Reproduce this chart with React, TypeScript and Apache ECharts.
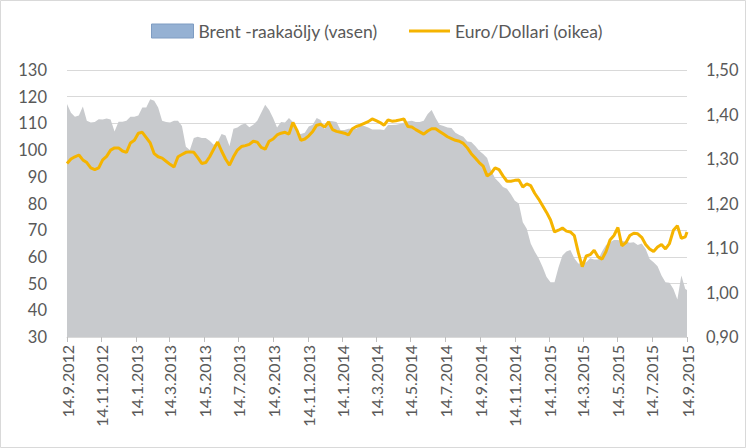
import React, { useEffect, useRef } from "react";
import * as echarts from "echarts";

const brentLabel = "Brent -raakaöljy (vasen)";
const euroLabel = "Euro/Dollari (oikea)";

// Tick labels on the date axis
const tickLabels = [
  "14.9.2012", "14.11.2012", "14.1.2013", "14.3.2013", "14.5.2013", "14.7.2013",
  "14.9.2013", "14.11.2013", "14.1.2014", "14.3.2014", "14.5.2014", "14.7.2014",
  "14.9.2014", "14.11.2014", "14.1.2015", "14.3.2015", "14.5.2015", "14.7.2015",
  "14.9.2015",
];

// Sampling: weekly from 14.9.2012, final point 14.9.2015
const firstSample = "14.9.2012";
const lastSample = "14.9.2015";

// Brent crude, USD/barrel (left axis), weekly readings
const brent = [
  117.3, 114, 112.5, 113, 116.3, 111, 110.3, 110.5, 111.6, 111.5,
  111.8, 111.5, 107, 110.6, 110.6, 111, 112.5, 112.5, 113, 116,
  116, 119, 118.5, 116, 111, 110.5, 110.3, 111, 111, 109,
  101.3, 100, 104.5, 105, 104.5, 104.5, 103.5, 102, 103, 106,
  105.5, 101.5, 108, 108.5, 109.5, 110, 108.6, 109.5, 111, 114,
  117, 115, 112, 108.5, 110.5, 110.3, 112, 110.5, 106.5, 106,
  106.5, 108.8, 109.5, 112, 111.3, 107.8, 111, 110.8, 110.5, 107.5,
  107.5, 108, 108, 108, 109, 109, 108.5, 107.7, 107.7, 107.7,
  107.5, 109.4, 109.4, 109.5, 109.8, 110.3, 110.8, 111, 110.5, 110.5,
  111, 113.5, 115, 112, 109.5, 109, 108.5, 108.3, 106.5, 105.7,
  105, 103.2, 103, 101.5, 99.8, 98.5, 97, 92.5, 89.5, 88,
  86.2, 85.5, 83.5, 81, 80, 73, 70.5, 65, 62, 59.5,
  56.2, 52.5, 50.5, 50.5, 56, 60.5, 62, 62.6, 59.5, 57.5,
  57.5, 58, 59.5, 59, 59, 62, 64.5, 65.5, 66.3, 66.3,
  66, 65.8, 65.3, 65.5, 64.5, 65, 63, 59.2, 58, 56.5,
  53, 50.5, 50.3, 48, 44, 53, 48, 47.6,
];

// EUR/USD (right axis), weekly readings
const eurusd = [
  1.29, 1.3, 1.305, 1.309, 1.298, 1.292, 1.28, 1.276, 1.28, 1.298,
  1.306, 1.32, 1.325, 1.325, 1.318, 1.315, 1.336, 1.342, 1.358, 1.36,
  1.348, 1.336, 1.312, 1.305, 1.302, 1.295, 1.288, 1.282, 1.305, 1.31,
  1.315, 1.316, 1.315, 1.303, 1.29, 1.292, 1.305, 1.322, 1.338, 1.318,
  1.3, 1.286, 1.305, 1.32, 1.328, 1.33, 1.333, 1.34, 1.338, 1.326,
  1.322, 1.34, 1.345, 1.354, 1.358, 1.36, 1.356, 1.382, 1.365, 1.342,
  1.345, 1.352, 1.362, 1.376, 1.378, 1.372, 1.383, 1.366, 1.362, 1.36,
  1.358, 1.354, 1.368, 1.373, 1.376, 1.38, 1.384, 1.39, 1.386, 1.382,
  1.376, 1.388, 1.385, 1.386, 1.388, 1.39, 1.373, 1.372, 1.366, 1.361,
  1.356, 1.363, 1.368, 1.368, 1.362, 1.356, 1.35, 1.346, 1.342, 1.34,
  1.335, 1.325, 1.312, 1.302, 1.292, 1.284, 1.262, 1.268, 1.28, 1.276,
  1.262, 1.25, 1.25, 1.252, 1.253, 1.237, 1.244, 1.24, 1.223, 1.21,
  1.195, 1.18, 1.163, 1.136, 1.14, 1.145, 1.138, 1.136, 1.128, 1.09,
  1.058, 1.082, 1.085, 1.095, 1.08, 1.075, 1.092, 1.118, 1.128, 1.146,
  1.105, 1.112, 1.128, 1.133, 1.132, 1.124, 1.108, 1.098, 1.092, 1.102,
  1.108, 1.098, 1.11, 1.14, 1.15, 1.122, 1.125, 1.136,
];

const parseDate = (s: string) => {
  const [d, m, y] = s.split(".").map(Number);
  return Date.UTC(y, m - 1, d);
};
const fmtDate = (v: number) => {
  const d = new Date(v);
  return `${d.getUTCDate()}.${d.getUTCMonth() + 1}.${d.getUTCFullYear()}`;
};

const DAY = 86400000;
const t0 = parseDate(firstSample);
const tEnd = parseDate(lastSample);
const sampleTimes = brent.map((_, i) =>
  i === brent.length - 1 ? tEnd : t0 + i * 7 * DAY
);
const tickTimes = tickLabels.map(parseDate);

const FONT = "Lato, 'Open Sans', sans-serif";
const TXT = "#595959";
const GOLD = "#F5B400";

export default function App() {
  const ref = useRef<HTMLDivElement>(null);
  useEffect(() => {
    if (!ref.current) return;
    const chart = echarts.init(ref.current, undefined, { renderer: "svg" });
    chart.setOption({
      animation: false,
      backgroundColor: "#ffffff",
      textStyle: { fontFamily: FONT },
      graphic: [
        {
          type: "rect",
          shape: { x: 0.5, y: 0.5, width: 745, height: 447 },
          style: { fill: "none", stroke: "#d9d9d9", lineWidth: 1 },
          silent: true,
        },
      ],
      legend: [
        {
          left: 151,
          top: 22,
          padding: 0,
          itemWidth: 42,
          itemHeight: 14,
          selectedMode: false,
          textStyle: { color: TXT, fontSize: 17.5, fontFamily: FONT },
          data: [
            {
              name: brentLabel,
              icon: "rect",
              itemStyle: { color: "#95B1D3", borderColor: "#7E9CC2", borderWidth: 1 },
            },
          ],
        },
        {
          left: 409,
          top: 22,
          padding: 0,
          itemWidth: 41,
          itemHeight: 14,
          selectedMode: false,
          symbolKeepAspect: true,
          textStyle: { color: TXT, fontSize: 17.5, fontFamily: FONT },
          data: [
            {
              name: euroLabel,
              icon: "path://M0,0H41V3H0Z",
              itemStyle: { color: GOLD, borderWidth: 0 },
            },
          ],
        },
      ],
      grid: { left: 67, right: 59, top: 70, bottom: 111, containLabel: false },
      xAxis: {
        type: "value",
        min: t0,
        max: tEnd,
        axisLine: { show: true, lineStyle: { color: "#d9d9d9", width: 1 } },
        axisTick: {
          show: true,
          customValues: tickTimes,
          length: 5,
          lineStyle: { color: "#bfbfbf" },
        },
        axisLabel: {
          customValues: tickTimes,
          rotate: 90,
          margin: 8,
          color: TXT,
          fontSize: 16,
          fontFamily: FONT,
          hideOverlap: false,
          formatter: (v: number) => fmtDate(v),
        },
        splitLine: { show: false },
      },
      yAxis: [
        {
          type: "value",
          position: "left",
          min: 30,
          max: 130,
          interval: 10,
          axisLine: { show: false },
          axisTick: { show: false },
          axisLabel: { color: TXT, fontSize: 16.5, fontFamily: FONT, margin: 20 },
          splitLine: { show: true, lineStyle: { color: "#d9d9d9", width: 1 } },
        },
        {
          type: "value",
          position: "right",
          min: 0.9,
          max: 1.5,
          interval: 0.1,
          axisLine: { show: false },
          axisTick: { show: false },
          axisLabel: {
            color: TXT,
            fontSize: 16.5,
            fontFamily: FONT,
            margin: 19,
            formatter: (v: number) => v.toFixed(2).replace(".", ","),
          },
          splitLine: { show: false },
        },
      ],
      series: [
        {
          name: brentLabel,
          type: "line",
          yAxisIndex: 0,
          symbol: "none",
          lineStyle: { width: 0, color: "#C8CACD" },
          itemStyle: { color: "#C8CACD" },
          areaStyle: { color: "#C8CACD", opacity: 1 },
          data: sampleTimes.map((t, i) => [t, brent[i]]),
        },
        {
          name: euroLabel,
          type: "line",
          yAxisIndex: 1,
          symbol: "none",
          showSymbol: false,
          lineStyle: { width: 3, color: GOLD },
          itemStyle: { color: GOLD },
          data: sampleTimes.map((t, i) => [t, eurusd[i]]),
        },
      ],
    });
    return () => chart.dispose();
  }, []);
  return (
    <div
      ref={ref}
      style={{ position: "fixed", left: 0, top: 0, width: 746, height: 448 }}
    />
  );
}
